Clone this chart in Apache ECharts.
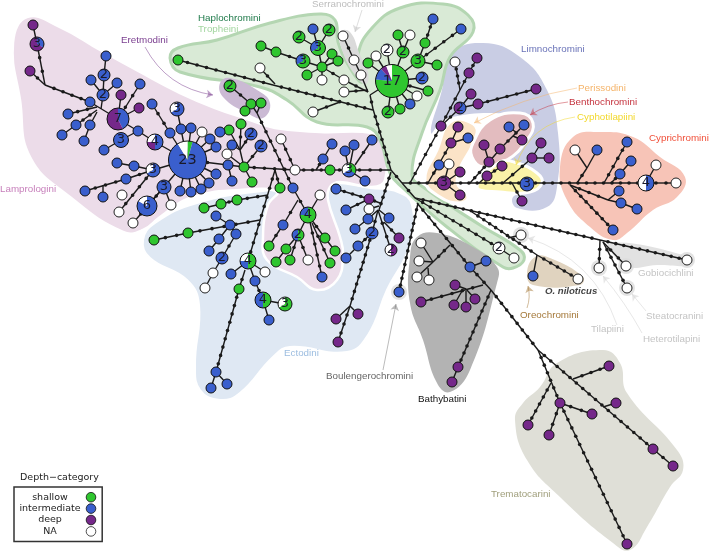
<!DOCTYPE html>
<html><head><meta charset="utf-8">
<style>html,body{margin:0;padding:0;background:#fff}#c{width:709px;height:552px}</style>
<script src="https://cdn.jsdelivr.net/npm/echarts@6/dist/echarts.min.js"></script>
</head><body><div id="c"></div><script>
// clade shaded regions: [name, fill, stroke, stroke width, points]
const blobEctodini=[[143,240],[155,223],[197,203],[270,190],[300,190],[333,183],[370,188],[398,192],[412,205],[410,245],[387,290],[368,335],[347,352],[290,347],[273,357],[240,393],[220,400],[200,390],[195,365],[199,305],[187,280],[150,258]];
const blobLamprologini=[[27,17],[60,27],[100,50],[140,72],[180,93],[215,108],[250,120],[275,128],[320,132],[372,133],[383,142],[385,180],[372,187],[340,182],[330,187],[328,200],[340,237],[343,255],[337,280],[317,290],[297,277],[267,260],[263,237],[268,205],[277,192],[240,190],[190,198],[160,217],[143,230],[123,232],[70,197],[30,157],[20,100],[13,43]];
const blobGreen=[[170,58],[178,48],[217,40],[270,23],[320,14],[335,20],[338,42],[350,68],[362,82],[358,55],[372,28],[400,8],[443,4],[468,15],[473,32],[450,57],[440,90],[422,133],[412,175],[423,187],[480,225],[520,250],[524,260],[513,268],[503,267],[447,227],[403,188],[390,173],[380,140],[367,127],[317,122],[287,100],[260,87],[180,72]];
const blobSerrano=[[340,32],[350,32],[360,55],[368,72],[366,84],[355,75],[342,50]];
const blobEretmodini=[[220,83],[230,78],[257,90],[270,103],[263,118],[247,113],[223,97]];
const blobLimno=[[431,133],[442,90],[450,55],[483,43],[520,57],[547,90],[558,133],[557,187],[547,207],[517,208],[513,197],[530,190],[505,165],[528,125],[520,115],[447,118]];
const blobPeriss=[[450,122],[470,122],[477,133],[457,180],[468,197],[460,203],[440,197],[425,180],[437,150]];
const blobBentho=[[473,143],[490,120],[520,113],[533,123],[527,140],[507,160],[483,167],[472,157]];
const blobCypho=[[477,187],[500,162],[517,163],[537,173],[542,183],[530,192],[500,192]];
const blobCypri=[[560,167],[573,137],[600,132],[633,137],[660,157],[685,177],[677,197],[653,210],[627,233],[613,240],[590,227],[567,200]];
const blobGobio=[[610,243],[690,257],[692,265],[657,265],[630,268],[620,263]];
const blobOreo=[[527,273],[535,257],[550,258],[583,277],[580,285],[533,285]];
const blobBathy=[[410,257],[417,237],[437,233],[473,247],[497,267],[497,283],[470,370],[450,392],[437,383],[423,340],[410,303]];
const blobTrem=[[540,387],[557,363],[603,350],[620,363],[627,393],[677,450],[683,470],[670,487],[647,527],[630,550],[613,543],[560,497],[527,460],[515,420],[523,403]];
const blobs=[
 [blobEctodini,'#dfe8f3','#fff',2],[blobLimno,'#c9cde4','#fff',0],[blobLamprologini,'#ecdce9','#fff',2.5],
 [blobGreen,'#d9ead6','#b4d6b2',3],[blobSerrano,'#dadada','#fff',0],[blobEretmodini,'#cbbad4','#fff',0],
 [blobPeriss,'#fbe3c7','#fff',3],[blobBentho,'#e3bcbf','#fff',3],[blobCypho,'#faf2a8','#fff',3],[blobCypri,'#f7c4b7','#fff',0],
 [blobGobio,'#e2e2e2','#fff',0],[blobOreo,'#e0d3bf','#fff',0],[blobBathy,'#b3b3b3','#fff',0],[blobTrem,'#dfdfd7','#fff',0]];
const halos=[[599,268],[627,288],[521,235],[626,266],[687,260],[399,292]];

// network links: x1,y1,x2,y2, mutation steps on the link
const edgesLampro=[[33,25,37,44,0],[37,44,45,85,2],[30,71,45,85,1],[45,85,90,102,4],[90,102,118,119,0],[103,95,101,109,0],[104,75,103,95,0],[106,56,104,75,0],[91,80,103,95,0],[117,83,103,95,0],[68,114,97,107,2],[76,125,97,110,2],[62,135,76,125,0],[90,125,97,112,0],[84,141,90,125,0],[118,119,140,84,2],[118,119,121,95,0],[118,119,139,108,0],[118,119,138,131,0],[138,131,121,140,0],[121,140,104,150,0],[138,131,155,142,0],[155,142,187,160,0],[152,104,170,133,2],[170,133,187,160,0],[177,109,181,129,0],[181,129,187,160,0],[191,128,187,160,0],[202,132,187,160,0],[210,139,187,160,0],[216,147,187,160,0],[180,191,187,160,0],[191,192,187,160,0],[201,189,187,160,0],[209,183,187,160,0],[216,174,187,160,0],[187,160,228,165,1],[228,165,244,167,0],[228,165,232,181,0],[227,154,244,167,0],[244,167,240,150,0],[240,150,232,145,0],[240,150,241,124,1],[229,130,240,150,0],[251,134,240,150,1],[220,132,229,130,0],[261,146,244,167,1],[252,182,244,167,0],[187,160,153,170,0],[153,170,134,166,0],[134,166,117,163,0],[153,170,126,179,1],[126,179,85,191,3],[103,185,103,197,0],[187,160,164,187,0],[164,187,171,205,0],[119,212,153,170,4],[133,223,164,187,3],[147,206,164,187,0]];
const edgesCentre=[[244,167,295,170,4],[295,170,330,170,3],[330,170,349,170,1],[349,170,391,170,3],[281,139,295,170,2],[323,159,316,170,1],[332,144,323,159,0],[345,151,349,170,0],[354,145,349,170,0],[372,140,355,165,1],[365,181,349,170,0],[257,113,293,188,7],[293,188,308,215,1],[275,170,248,261,9],[275,170,280,188,1],[320,195,308,215,0],[251,104,257,113,0],[261,103,257,113,0],[245,111,251,104,0],[230,86,251,104,1],[298,200,283,225,1],[269,246,283,225,1],[308,215,298,235,0],[298,235,286,249,0],[286,249,276,262,0],[298,235,290,260,1],[298,235,308,260,1],[308,215,325,238,1],[325,238,335,251,0],[312,223,330,263,2],[310,222,322,277,4]];
const edgesEctodini=[[268,195,237,200,2],[237,200,221,204,1],[221,204,204,208,0],[154,240,188,233,2],[188,233,260,220,5],[230,225,216,216,0],[230,225,219,239,0],[219,239,209,251,0],[236,234,230,225,0],[236,234,222,258,1],[222,258,213,273,0],[213,273,205,288,0],[248,261,231,274,0],[248,261,265,272,0],[248,261,255,281,0],[255,281,263,300,1],[263,300,285,304,0],[263,300,269,320,0],[245,270,239,289,1],[239,289,216,372,9],[216,372,211,388,0],[216,372,227,384,0],[391,172,379,210,5],[380,203,369,199,1],[369,199,336,189,3],[346,210,369,199,1],[369,209,379,206,0],[368,219,378,210,0],[389,218,379,210,0],[355,229,368,219,0],[378,210,372,233,1],[372,233,358,246,1],[358,246,346,258,0],[372,233,350,306,9],[350,306,336,319,0],[350,306,358,314,0],[350,306,338,342,3],[378,210,391,250,2],[399,238,384,222,1],[399,292,418,203,12]];
const edgesGreen=[[402,183,391,170,1],[391,170,373,109,7],[373,109,370,95,1],[178,60,273,85,9],[273,85,373,110,11],[260,68,275,84,1],[313,112,340,102,1],[392,81,370,95,0],[392,81,368,63,0],[392,81,376,56,0],[392,81,387,50,0],[392,81,403,52,0],[398,35,403,52,0],[410,35,403,52,0],[392,81,418,61,0],[418,61,425,43,0],[425,43,433,19,2],[418,61,437,65,0],[418,61,461,29,4],[392,81,422,78,0],[392,81,428,91,1],[392,81,417,96,0],[392,81,410,104,0],[392,81,400,109,0],[392,81,388,112,0],[361,75,368,92,0],[354,60,361,75,0],[343,36,354,60,1],[344,92,368,90,1],[344,80,368,92,1],[322,67,344,80,1],[322,67,332,54,0],[322,67,338,61,0],[322,67,307,75,0],[322,67,322,80,0],[322,67,318,48,0],[318,48,313,29,0],[318,48,299,37,0],[318,48,329,30,0],[322,67,303,61,0],[276,52,303,61,1],[261,46,276,52,0],[415,198,499,248,10],[499,248,514,258,0]];
const edgesEast=[[402,183,444,183,4],[444,183,527,183,9],[527,183,646,183,13],[646,183,676,183,2],[410,183,441,126,5],[441,126,460,90,3],[460,90,469,73,1],[469,73,477,58,1],[460,90,455,62,3],[441,126,460,108,1],[460,108,471,94,0],[460,108,478,104,0],[478,104,536,89,5],[428,183,451,143,3],[451,143,458,127,0],[451,143,468,138,0],[439,165,433,175,0],[449,164,444,183,0],[444,183,460,172,0],[444,183,460,195,0],[470,183,489,162,3],[489,162,484,145,0],[489,162,500,149,0],[500,149,524,125,2],[509,127,517,133,0],[522,140,513,136,0],[487,176,479,183,0],[502,166,487,176,1],[503,183,532,158,2],[532,158,541,143,0],[532,158,549,158,0],[522,201,512,183,1],[575,150,587,168,0],[587,168,577,183,1],[597,150,587,168,0],[627,142,604,183,4],[631,161,620,174,0],[620,174,611,183,1],[656,165,646,183,0],[570,185,608,200,3],[608,200,619,191,0],[608,200,621,203,0],[621,203,637,209,0],[570,185,613,230,7]];
const edgesSouth=[[402,183,415,198,1],[415,198,600,240,22],[600,240,687,260,10],[472,212,537,255,10],[537,255,578,279,5],[537,255,533,276,0],[521,235,508,238,0],[417,203,470,267,8],[470,267,486,261,0],[470,267,491,290,2],[491,290,538,350,8],[538,350,653,449,17],[653,449,673,466,1],[450,245,433,262,2],[433,262,421,243,0],[433,262,419,261,0],[433,262,417,277,0],[429,280,428,268,0],[483,285,421,302,5],[455,285,466,289,0],[475,299,466,289,0],[454,305,462,291,0],[466,307,466,291,0],[491,290,458,367,10],[458,367,452,382,0],[538,350,560,403,6],[551,383,528,425,5],[560,403,549,435,2],[560,403,592,414,2],[560,403,627,544,16],[609,366,573,379,3],[616,403,603,407,0],[600,240,599,268,2],[603,242,626,266,2],[603,242,627,288,5]];
const edges=[...edgesLampro,...edgesCentre,...edgesEctodini,...edgesGreen,...edgesEast,...edgesSouth];

// single-haplotype nodes by depth category
const shallow=[[178,60],[261,46],[276,52],[332,54],[338,61],[322,67],[307,75],[368,63],[251,104],[261,103],[245,111],[229,130],[241,124],[244,167],[252,182],[330,170],[280,188],[154,240],[188,233],[204,208],[221,204],[237,200],[239,289],[269,246],[286,249],[276,262],[290,260],[325,238],[335,251],[330,263],[398,35],[425,43],[437,65],[428,91],[400,109]];
const intermediate=[[313,29],[106,56],[91,80],[117,83],[90,102],[140,84],[68,114],[76,125],[90,125],[62,135],[84,141],[152,104],[138,131],[104,150],[170,133],[181,129],[191,128],[210,139],[216,147],[117,163],[134,166],[126,179],[85,191],[103,197],[180,191],[191,192],[201,189],[209,183],[216,174],[232,181],[228,165],[220,132],[232,145],[323,159],[332,144],[345,151],[354,145],[372,140],[365,181],[293,188],[216,216],[230,225],[236,234],[219,239],[209,251],[231,274],[255,281],[269,320],[216,372],[211,388],[227,384],[283,225],[322,277],[336,189],[346,210],[368,219],[389,218],[355,229],[358,246],[346,258],[399,292],[433,19],[461,29],[410,104],[468,138],[439,165],[509,127],[524,125],[597,150],[627,142],[631,161],[620,174],[619,191],[621,203],[637,209],[613,230],[486,261],[470,267],[533,276]];
const deep=[[33,25],[30,71],[121,95],[139,108],[369,199],[399,238],[336,319],[358,314],[338,342],[477,58],[469,73],[471,94],[536,89],[478,104],[441,126],[458,127],[451,143],[460,172],[460,195],[484,145],[500,149],[522,140],[489,162],[487,176],[502,166],[541,143],[532,158],[549,158],[522,201],[455,285],[475,299],[421,302],[454,305],[466,307],[458,367],[452,382],[609,366],[616,403],[560,403],[592,414],[528,425],[549,435],[653,449],[673,466],[627,544]];
const na=[[202,132],[171,205],[122,195],[119,212],[133,223],[227,154],[281,139],[295,170],[320,195],[260,68],[313,112],[322,80],[344,80],[344,92],[343,36],[354,60],[361,75],[213,273],[205,288],[265,272],[308,260],[369,209],[376,56],[410,35],[417,96],[455,62],[449,164],[575,150],[656,165],[676,183],[421,243],[419,261],[417,277],[429,280],[521,235],[514,258],[578,279],[687,260],[626,266],[599,268],[627,288]];

// multi-haplotype nodes: x,y,radius,[shallow,intermediate,deep,NA],label
const pies=[[37,44,7,[0,1,2,0],'3'],[104,75,6,[0,2,0,0],'2'],[103,95,6,[0,2,0,0],'2'],[118,119,11,[0,3,4,0],'7'],[177,109,7,[0,2,0,1],'3'],[121,140,7.5,[0,3,0,0],'3'],[155,142,8,[0,2,1,1],'4'],[187.5,160,19,[1,20,0,2],'23'],[153,170,7,[0,2,0,1],'3'],[164,187,7,[0,3,0,0],'3'],[147,206,10,[0,5,0,1],'6'],
[230,86,6,[2,0,0,0],'2'],[251,134,6,[0,2,0,0],'2'],[261,146,6,[0,2,0,0],'2'],[349,170,7,[1,1,0,1],'3'],[308,215,8,[3,1,0,0],'4'],[298,235,6,[1,1,0,0],'2'],[248,261,8,[2,1,0,1],'4'],[222,258,6,[0,2,0,0],'2'],[263,300,8,[2,2,0,0],'4'],[285,304,7,[2,0,0,1],'3'],[372,233,6,[0,2,0,0],'2'],[391,250,6,[0,0,1,1],'2'],
[318,48,7.5,[2,1,0,0],'3'],[299,37,6,[2,0,0,0],'2'],[329,30,6,[2,0,0,0],'2'],[303,61,7,[2,1,0,0],'3'],[392,81,16.5,[13,2,1,1],'17'],[403,52,6,[2,0,0,0],'2'],[387,50,6,[0,0,0,2],'2'],[418,61,7,[3,0,0,0],'3'],[422,78,6,[0,2,0,0],'2'],[388,112,6,[2,0,0,0],'2'],
[460,108,6,[0,1,1,0],'2'],[444,183,7,[0,0,3,0],'3'],[527,184,7,[0,3,0,0],'3'],[646,183,8,[0,2,0,2],'4'],[499,248,6,[0,0,0,2],'2']];

const labels=[['Lamprologini',0,189,'#c77fbb','left'],['Eretmodini',121,40,'#7b3f90','left'],['Haplochromini',198,18,'#1f7a4a','left'],['Tropheini',198,29,'#a3d6a0','left'],['Serranochromini',312,4,'#bdbdbd','left'],['Limnochromini',521,49,'#6a73b8','left'],['Perissodini',578,88,'#f5b46a','left'],['Benthochromini',569,102,'#c5343f','left'],['Cyphotilapiini',577,117,'#f2d82c','left'],['Cyprichromini',649,138,'#f0503a','left'],['Gobiocichlini',638,273,'#c4c4c4','left'],['Steatocranini',646,316,'#c4c4c4','left'],['Heterotilapini',643,339,'#c4c4c4','left'],['Tilapiini',591,329,'#c4c4c4','left'],['Oreochromini',520,315,'#a5793a','left'],['Bathybatini',418,399,'#111','left'],['Boulengerochromini',326,376,'#666','left'],['Ectodini',284,353,'#9cbde0','left'],['Trematocarini',491,494,'#a09f7c','left']];
const arrows=[[145,47,213,95,'#7b3f90',-0.25],[362,10,355,32,'#bdbdbd',0],[577,88,474,123,'#f5b46a',-0.08],[568,102,530,115,'#c5343f',-0.12],[575,117,516,165,'#f2d82c',-0.3],[383,370,396,304,'#777',0],[527,308,528,286,'#a5793a',-0.15],[617,325,528,238,'#cfcfcf',-0.25],[642,333,603,276,'#cfcfcf',-0.05],[646,311,632,294,'#cfcfcf',0]];
const COL=['#2fc62f','#3a5fcd','#75288a','#ffffff'];
const legendItems=['shallow','intermediate','deep','NA'];

const nodeSeries=(name,data,color,bc)=>({name,type:'scatter',data,symbolSize:10,z:4,silent:true,itemStyle:{color,borderColor:bc,borderWidth:1,opacity:1}});
const chart=echarts.init(document.getElementById('c'),null,{renderer:'canvas'});
chart.setOption({animation:false,backgroundColor:'#fff',
 grid:{left:0,right:0,top:0,bottom:0},
 xAxis:{type:'value',min:0,max:709,show:false},
 yAxis:{type:'value',min:0,max:552,inverse:true,show:false},
 title:{text:'Depth\u2212category',left:20,top:473,padding:0,textStyle:{fontFamily:'DejaVu Sans',fontSize:9.5,fontWeight:'normal',color:'#222'}},
 legend:{data:legendItems,orient:'vertical',align:'right',left:14,top:487,padding:[5,6,5,5],itemGap:1,itemWidth:10,itemHeight:9.6,icon:'circle',selectedMode:false,borderColor:'#333',borderWidth:1.5,backgroundColor:'#fff',
  itemStyle:{borderWidth:0.8},
  formatter:'{a|{name}}',
  textStyle:{fontFamily:'DejaVu Sans',fontSize:9.5,color:'#222',lineHeight:9.6,rich:{a:{width:62,align:'center',fontFamily:'DejaVu Sans',fontSize:9.5,color:'#222',lineHeight:9.6}}}},
 series:[
 {type:'custom',z:1,silent:true,clip:false,data:blobs.map(b=>b[0][0]),renderItem(p,api){const b=blobs[p.dataIndex];return {type:'polygon',shape:{points:b[0].map(q=>api.coord(q)),smooth:0.45},style:{fill:b[1],stroke:b[3]?b[2]:null,lineWidth:b[3]}};}},
 {type:'scatter',z:2,silent:true,data:halos,symbolSize:16,itemStyle:{color:'#dcdcdc'}},
 {type:'custom',z:3,silent:true,clip:false,data:edges.map(e=>[e[0],e[1]]),renderItem(p,api){const e=edges[p.dataIndex],a=api.coord([e[0],e[1]]),b=api.coord([e[2],e[3]]),ch=[{type:'line',shape:{x1:a[0],y1:a[1],x2:b[0],y2:b[1]},style:{stroke:'#1a1a1a',lineWidth:1.4}}];
   for(let i=1;i<=e[4];i++){const t=i/(e[4]+1);ch.push({type:'circle',shape:{cx:a[0]+(b[0]-a[0])*t,cy:a[1]+(b[1]-a[1])*t,r:1.8},style:{fill:'#1a1a1a'}});}
   return {type:'group',children:ch};}},
 nodeSeries('shallow',shallow,COL[0],'#111'),nodeSeries('intermediate',intermediate,COL[1],'#111'),nodeSeries('deep',deep,COL[2],'#111'),nodeSeries('NA',na,COL[3],'#222'),
 {type:'custom',z:5,silent:true,clip:false,data:pies.map(d=>[d[0],d[1]]),renderItem(p,api){const d=pies[p.dataIndex],c=api.coord([d[0],d[1]]),tot=d[3].reduce((s,v)=>s+v,0),ch=[];let ang=-Math.PI/2;
   d[3].forEach((v,i)=>{if(!v)return;const e=ang+v/tot*Math.PI*2;ch.push(v===tot?{type:'circle',shape:{cx:c[0],cy:c[1],r:d[2]},style:{fill:COL[i]}}:{type:'sector',shape:{cx:c[0],cy:c[1],r:d[2],r0:0,startAngle:ang,endAngle:e,clockwise:true},style:{fill:COL[i]}});ang=e;});
   ch.push({type:'circle',shape:{cx:c[0],cy:c[1],r:d[2]},style:{fill:'none',stroke:'#111',lineWidth:1}});
   ch.push({type:'text',x:c[0],y:c[1],style:{text:d[4],align:'center',verticalAlign:'middle',fill:'#1a1a2a',font:(d[2]>12?14.5:13)+'px "DejaVu Sans"'}});
   return {type:'group',children:ch};}},
 {type:'lines',coordinateSystem:'cartesian2d',z:6,silent:true,symbol:['none','arrow'],symbolSize:6.5,data:arrows.map(a=>({coords:[[a[0],a[1]],[a[2],a[3]]],lineStyle:{color:a[4],width:1,curveness:a[5]}}))},
 {type:'custom',z:7,silent:true,clip:false,data:labels.map(l=>[l[1],l[2]]),renderItem(p,api){const l=labels[p.dataIndex],c=api.coord([l[1],l[2]]);return {type:'text',x:c[0],y:c[1],style:{text:l[0],fill:l[3],align:l[4],verticalAlign:'middle',font:'9.8px "Liberation Sans"'}};}},
 {type:'scatter',z:7,silent:true,symbolSize:0,data:[[545,291]],label:{show:true,position:'right',distance:0,formatter:'O. niloticus',fontFamily:'Liberation Sans',fontSize:9.6,fontWeight:'bold',fontStyle:'italic',color:'#111'}}
 ]});
</script></body></html>
